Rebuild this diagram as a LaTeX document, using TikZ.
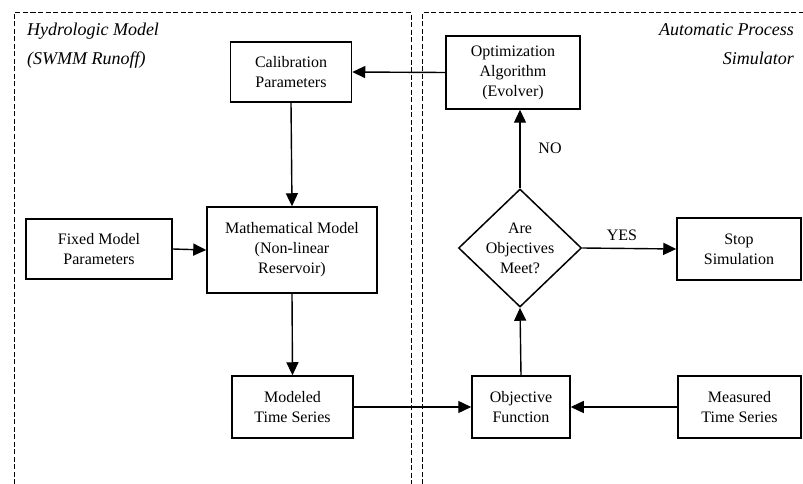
\documentclass[tikz,border=0pt]{standalone}
\usepackage{fontspec}
\setmainfont{Liberation Serif}
\usetikzlibrary{arrows.meta,shapes.geometric}
\begin{document}
\begin{tikzpicture}[x=1pt,y=-1pt,
  box/.style={draw,line width=1.5pt,inner sep=0pt,align=center,
    font=\fontsize{16}{20}\selectfont},
  flow/.style={line width=1.4pt,-{Triangle[length=13pt,width=12pt]}},
  frame/.style={line width=1pt,dash pattern=on 5pt off 2.5pt},
  note/.style={font=\fontsize{18}{29}\selectfont\itshape,inner sep=0pt},
  tag/.style={font=\fontsize{16}{20}\selectfont,inner sep=0pt}]
\useasboundingbox (0,0) rectangle (803,484);

% the two dashed regions
\draw[frame] (14,484) -- (14,13) -- (411,13) -- (411,484);
\draw[frame] (422,484) -- (422,13) -- (803,13);
\node[note,anchor=north west,align=left] (hydro) at (27,23) {Hydrologic Model\\(SWMM Runoff)};
\node[note,anchor=north east,align=right] (aps) at (794,23) {Automatic Process\\Simulator};

% process boxes
\node[box,minimum width=121pt,minimum height=60pt] (calib) at (291,72) {Calibration\\Parameters};
\node[box,minimum width=134pt,minimum height=73pt] (opt) at (513,72.5) {Optimization\\Algorithm\\(Evolver)};
\node[box,minimum width=146pt,minimum height=60pt] (fixed) at (99,249) {Fixed Model\\Parameters};
\node[box,minimum width=170pt,minimum height=86pt] (math) at (292,250) {Mathematical Model\\(Non-linear\\Reservoir)};
\node[box,minimum width=124pt,minimum height=62pt] (stop) at (739,249) {Stop\\Simulation};
\node[box,minimum width=121pt,minimum height=62pt] (model) at (292.5,407) {Modeled\\Time Series};
\node[box,minimum width=98pt,minimum height=62pt] (obj) at (521,407) {Objective\\Function};
\node[box,minimum width=123pt,minimum height=62pt] (meas) at (739.5,407) {Measured\\Time Series};

% decision
\node[draw,diamond,line width=1.5pt,minimum width=123pt,minimum height=118pt,inner sep=0pt] (dec) at (520,248) {};
\node[tag,align=center] (dectext) at (dec.center) {Are\\Objectives\\Meet?};

% connectors
\draw[flow] (opt.west) -- (calib.east);
\draw[flow] (calib.south) -- (math.north);
\draw[flow] (fixed.east) -- (math.west);
\draw[flow] (math.south) -- (model.north);
\draw[flow] (model.east) -- (obj.west);
\draw[flow] (meas.west) -- (obj.east);
\draw[flow] (obj.north) -- (dec.south);
\draw[flow] (dec.north) -- (dec.north |- opt.south);
\draw[flow] (dec.east) -- (stop.west);

\node[tag] (yes) at (622,235) {YES};
\node[tag] (no) at (550,148) {NO};
\end{tikzpicture}
\end{document}
